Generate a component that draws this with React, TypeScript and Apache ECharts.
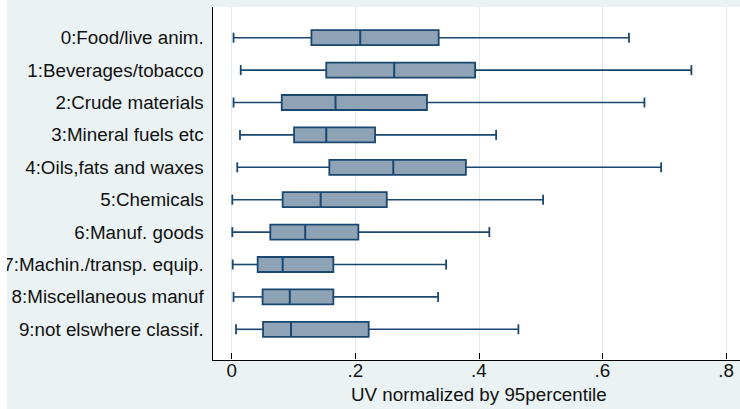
import React, { useEffect, useRef } from "react";
import * as echarts from "echarts";

const categories = [
  "0:Food/live anim.",
  "1:Beverages/tobacco",
  "2:Crude materials",
  "3:Mineral fuels etc",
  "4:Oils,fats and waxes",
  "5:Chemicals",
  "6:Manuf. goods",
  "7:Machin./transp. equip.",
  "8:Miscellaneous manuf",
  "9:not elswhere classif.",
];
const whiskerLow = [0.003, 0.0146, 0.003, 0.0134, 0.009, 0.001, 0.001, 0.0016, 0.003, 0.007];
const quart1 = [0.129, 0.153, 0.081, 0.101, 0.158, 0.0825, 0.0625, 0.042, 0.05, 0.0507];
const medians = [0.208, 0.263, 0.168, 0.153, 0.2615, 0.144, 0.119, 0.0825, 0.094, 0.096];
const quart3 = [0.335, 0.394, 0.316, 0.232, 0.379, 0.251, 0.205, 0.1645, 0.1645, 0.2217];
const whiskerHigh = [0.643, 0.744, 0.668, 0.428, 0.695, 0.504, 0.417, 0.347, 0.334, 0.464];
const xTickLabels = ["0", ".2", ".4", ".6", ".8"];
const axisTitle = "UV normalized by 95percentile";

const FONT = "'Liberation Sans', Arial, Helvetica, sans-serif";
const NAVY = "#1A476F";
const BOXFILL = "#8FA3B7";
const GRIDLINE = "#E2ECEE";
const BG = "#EAF2F3";

export default function App() {
  const ref = useRef<HTMLDivElement>(null);
  useEffect(() => {
    if (!ref.current) return;
    const chart = echarts.init(ref.current, undefined, { renderer: "svg" });
    const data = categories.map((_, i) => [
      i,
      whiskerLow[i],
      quart1[i],
      medians[i],
      quart3[i],
      whiskerHigh[i],
    ]);
    const plotL = 231.7;
    const plotR = 740 - 726;
    const option: any = {
      animation: false,
      backgroundColor: "transparent",
      textStyle: { fontFamily: FONT },
      graphic: [
        {
          type: "rect",
          z: -2,
          silent: true,
          shape: { x: 7, y: 0, width: 733, height: 409 },
          style: { fill: BG },
        },
        {
          type: "rect",
          z: -1,
          silent: true,
          shape: { x: 212, y: 7, width: 528, height: 353 },
          style: { fill: "#ffffff" },
        },
        {
          type: "rect",
          z: 100,
          silent: true,
          shape: { x: 0, y: 0, width: 7, height: 409 },
          style: { fill: "#ffffff" },
        },
        {
          type: "line",
          z: 10,
          silent: true,
          shape: { x1: 212.5, y1: 7, x2: 212.5, y2: 360.5 },
          style: { stroke: "#000", lineWidth: 1 },
        },
        {
          type: "line",
          z: 10,
          silent: true,
          shape: { x1: 212, y1: 360.5, x2: 740, y2: 360.5 },
          style: { stroke: "#000", lineWidth: 1 },
        },
      ],
      grid: [
        { left: plotL, right: plotR, top: 7, bottom: 409 - 360, containLabel: false },
        { left: plotL, right: plotR, top: 21.5, bottom: 409 - 345.5, containLabel: false },
      ],
      xAxis: [
        {
          type: "value",
          gridIndex: 0,
          min: 0,
          max: 0.8,
          interval: 0.2,
          axisLine: { show: false },
          axisTick: { show: true, length: 6, lineStyle: { color: "#000", width: 1 } },
          axisLabel: {
            margin: 8,
            fontSize: 18.8,
            color: "#111",
            fontFamily: FONT,
            formatter: (v: number) => xTickLabels[Math.round(v / 0.2)] ?? "",
          },
          splitLine: { show: true, lineStyle: { color: GRIDLINE, width: 1.2 } },
          name: axisTitle,
          nameLocation: "middle",
          nameGap: 30,
          nameTextStyle: { fontSize: 18.8, color: "#111", fontFamily: FONT },
        },
        {
          type: "value",
          gridIndex: 1,
          min: 0,
          max: 0.8,
          show: false,
        },
      ],
      yAxis: [
        {
          type: "value",
          gridIndex: 0,
          show: false,
        },
        {
          type: "category",
          gridIndex: 1,
          data: categories,
          inverse: true,
          axisLine: { show: false },
          axisTick: { show: false },
          splitLine: { show: false },
          axisLabel: {
            margin: 28,
            fontSize: 18.8,
            color: "#111",
            fontFamily: FONT,
          },
        },
      ],
      series: [
        {
          type: "custom",
          xAxisIndex: 1,
          yAxisIndex: 1,
          data,
          encode: { x: [1, 2, 3, 4, 5], y: 0 },
          renderItem: (_params: any, api: any) => {
            const i = api.value(0);
            const lo = api.coord([api.value(1), i]);
            const a = api.coord([api.value(2), i]);
            const m = api.coord([api.value(3), i]);
            const b = api.coord([api.value(4), i]);
            const hi = api.coord([api.value(5), i]);
            const y = lo[1];
            const bh = 15;
            const ch = 5;
            const ws = { stroke: NAVY, lineWidth: 1.6 };
            return {
              type: "group",
              children: [
                { type: "line", shape: { x1: lo[0], y1: y, x2: a[0], y2: y }, style: ws },
                { type: "line", shape: { x1: b[0], y1: y, x2: hi[0], y2: y }, style: ws },
                { type: "line", shape: { x1: lo[0], y1: y - ch, x2: lo[0], y2: y + ch }, style: { stroke: NAVY, lineWidth: 1.8 } },
                { type: "line", shape: { x1: hi[0], y1: y - ch, x2: hi[0], y2: y + ch }, style: { stroke: NAVY, lineWidth: 1.8 } },
                {
                  type: "rect",
                  shape: { x: a[0], y: y - bh / 2, width: b[0] - a[0], height: bh },
                  style: { fill: BOXFILL, stroke: NAVY, lineWidth: 1.8 },
                },
                {
                  type: "line",
                  shape: { x1: m[0], y1: y - bh / 2, x2: m[0], y2: y + bh / 2 },
                  style: { stroke: NAVY, lineWidth: 2 },
                },
              ],
            };
          },
        },
      ],
    };
    chart.setOption(option);
    return () => chart.dispose();
  }, []);
  return (
    <div
      ref={ref}
      style={{ position: "fixed", left: 0, top: 0, width: 740, height: 409, background: "#ffffff" }}
    />
  );
}
